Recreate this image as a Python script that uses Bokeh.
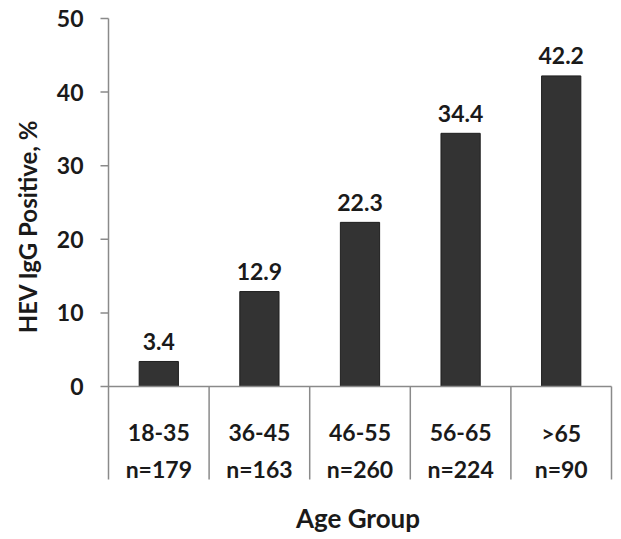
from bokeh.plotting import figure
from bokeh.models import Range1d, ColumnDataSource
from bokeh.core.properties import value
from bokeh.embed import file_html
from bokeh.resources import INLINE

age_groups = ["18-35", "36-45", "46-55", "56-65", ">65"]
n_labels = ["n=179", "n=163", "n=260", "n=224", "n=90"]
pct = [3.4, 12.9, 22.3, 34.4, 42.2]
y_ticks = [0, 10, 20, 30, 40, 50]

FONT = "Lato"
GRAY = "#8a8a8a"
TXT = "#1a1a1a"

PX_X = 100.6   # pixels per category
PX_Y = 7.36    # pixels per percent
table_bottom = -93 / PX_Y

p = figure(width=613, height=536, output_backend="svg", toolbar_location=None,
           x_range=Range1d(-108 / PX_X, 5 + 2 / PX_X),
           y_range=Range1d(-150 / PX_Y, 50 + 18 / PX_Y),
           min_border_left=0, min_border_right=0, min_border_top=0, min_border_bottom=0)
p.outline_line_color = None
p.grid.visible = False
p.axis.visible = False
p.background_fill_color = "white"

xs = [i + 0.5 for i in range(len(age_groups))]
src = ColumnDataSource(dict(x=xs, top=pct, cat=age_groups, n=n_labels,
                            lab=[f"{v:.1f}" for v in pct],
                            ly=[v + 20 / PX_Y for v in pct],
                            cy=[-46 / PX_Y] * len(xs), ny=[-82 / PX_Y] * len(xs)))

p.vbar(x="x", top="top", bottom=0, width=0.39, source=src,
       fill_color="#333333", line_color="#1f1f1f", line_width=1)

# y axis line (continues as table left border), ticks
p.segment(x0=[0], y0=[table_bottom], x1=[0], y1=[50], line_color=GRAY, line_width=1.5)
p.segment(x0=[-8 / PX_X] * len(y_ticks), y0=y_ticks, x1=[0] * len(y_ticks), y1=y_ticks,
          line_color=GRAY, line_width=1.5)
p.text(x=[-25 / PX_X] * len(y_ticks), y=y_ticks, text=[str(t) for t in y_ticks],
       text_font=value(FONT), text_font_style="bold", text_font_size="23px",
       text_color=TXT, text_align="right", text_baseline="middle")

# table lines
p.segment(x0=[0], y0=[0], x1=[5], y1=[0], line_color=GRAY, line_width=1.5)
p.segment(x0=[1, 2, 3, 4, 5], y0=[0] * 5, x1=[1, 2, 3, 4, 5], y1=[table_bottom] * 5,
          line_color=GRAY, line_width=1.5)

txt = dict(text_font=value(FONT), text_font_style="bold", text_font_size="23px",
           text_color=TXT, text_align="center", text_baseline="middle")
p.text(x="x", y="ly", text="lab", source=src, **txt)
p.text(x="x", y="cy", text="cat", source=src, **txt)
p.text(x="x", y="ny", text="n", source=src, **txt)

# axis titles
p.text(x=[2.48], y=[-131 / PX_Y], text=["Age Group"], **dict(txt, text_font_size="26px"))
p.text(x=[-81 / PX_X], y=[160 / PX_Y], text=["HEV IgG Positive, %"], angle=90, angle_units="deg",
       **dict(txt, text_font_size="24px"))

open("out.html", "w").write(file_html(p, INLINE))
